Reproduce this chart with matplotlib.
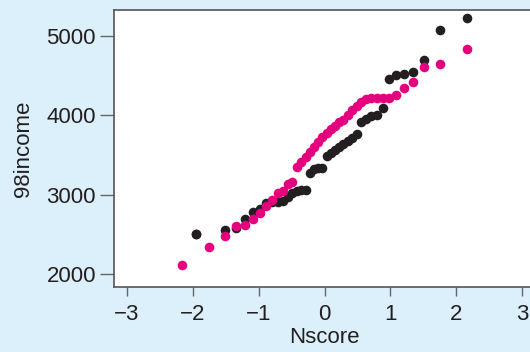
import matplotlib
matplotlib.use('Agg')
from matplotlib import pyplot as plt

# 正态得分 (n = 40)
nscore = [-2.157, -1.746, -1.512, -1.340, -1.201, -1.081, -0.976, -0.880, -0.792, -0.709,
          -0.631, -0.557, -0.485, -0.417, -0.349, -0.284, -0.220, -0.157, -0.094, -0.031,
          0.031, 0.094, 0.157, 0.220, 0.284, 0.349, 0.417, 0.485, 0.557, 0.631,
          0.709, 0.792, 0.880, 0.976, 1.081, 1.201, 1.340, 1.512, 1.746, 2.157]

# 黑色序列最低两个值相同, 得分取平均
black_nscore = [-1.95, -1.95] + nscore[2:]

black_income = [2500, 2500, 2559, 2576, 2689, 2777, 2815, 2891, 2905, 2910,
                2920, 2967, 3017, 3050, 3058, 3063, 3269, 3320, 3330, 3335,
                3483, 3520, 3560, 3604, 3640, 3680, 3718, 3760, 3912, 3960,
                3990, 4010, 4097, 4454, 4513, 4521, 4546, 4694, 5080, 5231]

pink_income = [2117, 2337, 2475, 2610, 2615, 2693, 2765, 2857, 2929, 3025,
               3046, 3138, 3163, 3352, 3408, 3479, 3542, 3605, 3668, 3723,
               3781, 3828, 3870, 3912, 3941, 4004, 4067, 4118, 4172, 4210,
               4215, 4218, 4220, 4222, 4261, 4345, 4425, 4609, 4647, 4841]

xticks = [-3, -2, -1, 0, 1, 2, 3]
yticks = [2000, 3000, 4000, 5000]

plt.rcParams['font.family'] = ['Liberation Sans', 'DejaVu Sans']
text_color = '#231f20'
spine_color = '#555555'

fig = plt.figure(figsize=(5.30, 3.52), dpi=100)
fig.patch.set_facecolor('#dcf0fb')
ax = fig.add_axes([114 / 530, 65 / 352, 421 / 530, 277 / 352])
ax.set_facecolor('white')

ax.scatter(black_nscore, black_income, s=48, color='#231f20', linewidths=0, zorder=3)
ax.scatter(nscore, pink_income, s=48, color='#e5007d', linewidths=0, zorder=3)

ax.set_xlim(-3.19, 3.19)
ax.set_ylim(1836, 5328)
ax.set_xticks(xticks)
ax.set_yticks(yticks)
ax.set_xticklabels(['\u2212' + str(-t) if t < 0 else str(t) for t in xticks])

for side in ['left', 'top', 'bottom', 'right']:
    ax.spines[side].set_color(spine_color)
    ax.spines[side].set_linewidth(1.2)

ax.tick_params(axis='y', length=10, width=1, color='#666666', labelsize=16,
               labelcolor=text_color, pad=3)
ax.tick_params(axis='x', length=6.5, width=1, color='#666666', labelsize=16,
               labelcolor=text_color, pad=6)

ax.set_xlabel('Nscore', fontsize=16, color=text_color, labelpad=1)
ax.set_ylabel('98income', fontsize=16, color=text_color, labelpad=9)

plt.savefig('out.png', dpi=100, facecolor=fig.get_facecolor())
